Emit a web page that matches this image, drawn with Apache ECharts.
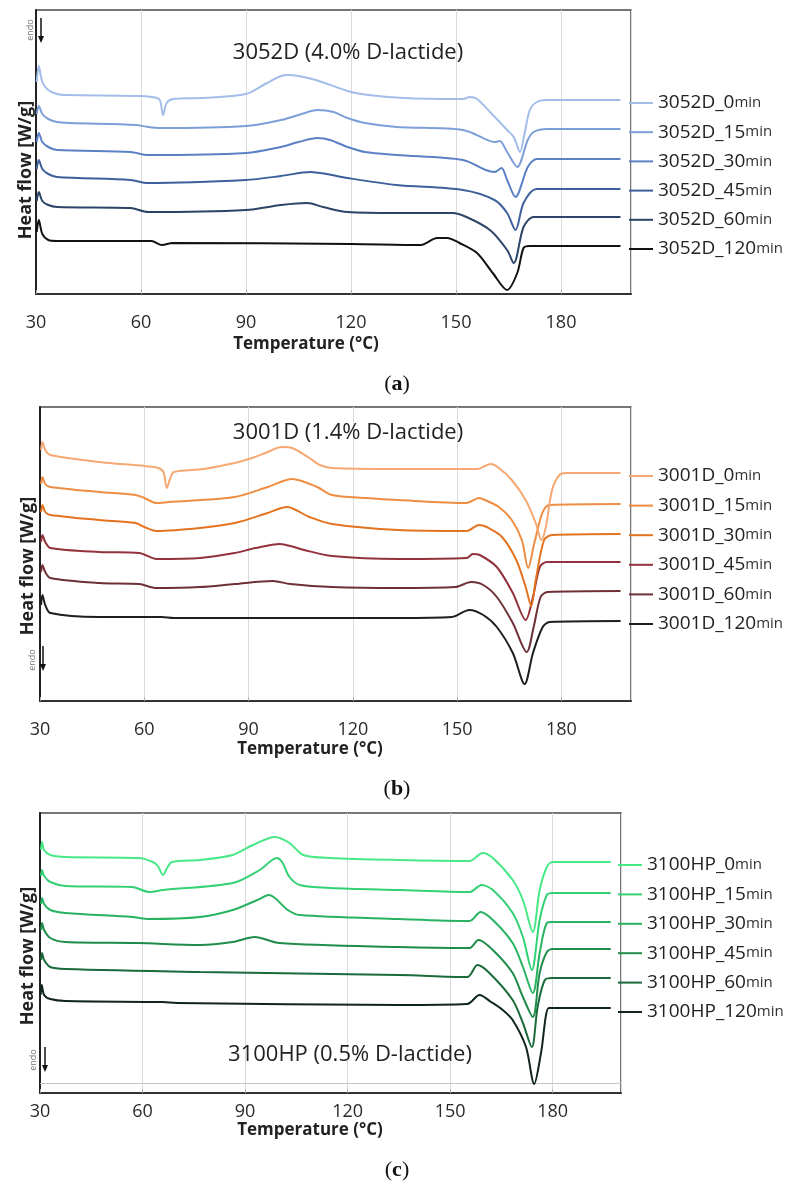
<!DOCTYPE html>
<html>
<head>
<meta charset="utf-8">
<script src="https://cdn.jsdelivr.net/npm/echarts@6/dist/echarts.min.js"></script>
<style>
html,body{margin:0;padding:0;background:#fff;}
#chart{width:794px;height:1191px;}
</style>
</head>
<body>
<div id="chart"></div>
<script>
// ---------- DATA (temperature °C, heat flow in offset arbitrary units) ----------
const xTickValues = [30, 60, 90, 120, 150, 180];
const panelTitles = ['3052D (4.0% D-lactide)', '3001D (1.4% D-lactide)', '3100HP (0.5% D-lactide)'];
const panelCaptions = ['a', 'b', 'c'];

const namesA = ['3052D_0min', '3052D_15min', '3052D_30min', '3052D_45min', '3052D_60min', '3052D_120min'];
const namesB = ['3001D_0min', '3001D_15min', '3001D_30min', '3001D_45min', '3001D_60min', '3001D_120min'];
const namesC = ['3100HP_0min', '3100HP_15min', '3100HP_30min', '3100HP_45min', '3100HP_60min', '3100HP_120min'];

const a0 = [[30.2,212],[30.8,228],[31.8,212],[33.5,204],[36,200],[39,199],[60,198],[64.6,196],[65.5,193],[66.3,179],[67.3,191],[69.2,195],[77,196],[90,200],[96,211],[100,218],[102,219],[105,218],[110,214],[120,202],[125,199],[135,196],[150,195],[152,195],[154,197],[156,195],[160,181],[164.6,164],[166.5,157],[168.3,142],[169.5,159],[171.1,184],[173.1,192],[176,194],[197,194]];
const a15 = [[30.2,180],[30.8,188],[31.8,180],[33.5,175],[36,172],[39.5,171],[58.5,169],[62,167],[65,166],[90,168],[100,174],[105,179],[110.5,184],[115,182],[119,176],[124,171],[133,167],[152,164],[159,154],[161,152],[162.5,153],[164.6,142],[167.5,127],[170.5,154],[172.2,162],[176,165],[197,165]];
const a30 = [[30.2,152],[30.8,161],[31.8,152],[33.5,147],[36,144],[57,142],[62,139],[90,141],[100,147],[105,152],[110.5,156],[114,154],[119,147],[124,142],[133,139],[152,134],[158.5,124],[161,122],[163,126],[164.6,114],[167,97],[170.5,127],[173,135],[176,135],[197,135]];
const a45 = [[30.2,125],[30.8,134],[31.8,125],[33.5,120],[36,117],[57,114],[62,111],[90,114],[100,118],[108.5,122],[113,120],[119,116],[133,109],[152,104],[161,94],[164.6,81],[167,64],[169.3,91],[173,105],[197,105]];
const a60 = [[30.2,93],[30.8,102],[31.8,93],[33.5,89],[36,87],[57,86],[62,82],[90,84],[100,89],[107.5,91],[112,87],[119,82],[133,81],[149,81],[153,77],[159.7,64],[164.6,44],[166.5,31],[169.3,67],[172.2,77],[197,77]];
const a120 = [[30.2,62],[30.8,74],[31.8,60],[33.5,54],[36,53],[60,53],[63,53],[66,49],[69,51],[120,50],[140,49],[144.6,56],[147.5,56],[151,51],[156,41],[160.5,21],[164.6,4],[167.5,21],[169.3,46],[171,48],[197,48]];

const b0 = [[30.3,251],[30.7,259],[31.5,251],[33,246],[47,239],[60,235],[64,233],[65.5,229],[66.5,213],[67.5,223],[68.5,229],[77,232],[86,238],[91,243],[95.5,249],[99.5,254],[102.5,253],[107.5,243],[110.5,236],[114,233],[133,232],[156,232],[158,235],[159.7,237],[162,233],[165.7,221],[169.7,201],[172.6,178],[174.2,161],[175.5,174],[177.3,211],[179.4,226],[181.5,228],[197,228]];
const b15 = [[30.3,217],[30.7,224],[31.5,217],[33,214],[47,209],[57.5,206],[60,203],[63.5,198],[67,199],[86,204],[95.5,214],[102.5,222],[109.7,214],[114,206],[124,203],[133,201],[152.7,198],[156.3,203],[158,201],[162,194],[165.7,181],[168.6,161],[170.4,133],[172.2,158],[174.5,188],[176.5,196],[197,197]];
const b30 = [[30.3,189],[30.7,196],[31.5,189],[33,186],[47,181],[57.5,178],[60,174],[63.5,170],[76,173],[86,178],[95.5,188],[101,194],[107.5,184],[114,177],[133,171],[152.7,170],[156.3,176],[158.5,174],[162.9,164],[167,141],[169.7,114],[171.3,95],[172.6,121],[175,161],[177.3,166],[197,167]];
const b45 = [[30.3,159],[30.7,166],[31.5,159],[33,153],[47,149],[58.5,148],[63.5,142],[76,143],[86,148],[92,153],[99,157],[103,154],[106,151],[114,145],[133,142],[152.7,143],[154.5,147],[156.5,146],[161.4,134],[166,108],[169.7,81],[171.8,104],[173.8,134],[175.8,139],[197,139]];
const b60 = [[30.3,129],[30.7,136],[31.5,129],[33,123],[47,118],[58.5,117],[63.5,113],[76,114],[86,117],[97,120],[102,117],[114,114],[133,113],[149.5,114],[154,119],[157.5,116],[161.4,104],[166,78],[170,49],[172,74],[174,104],[176,109],[197,110]];
const b120 = [[30.3,96],[30.7,106],[31.5,96],[33,88],[47,84],[65,84],[68.5,83],[133,83],[148.5,84],[153.5,91],[157.5,86],[161.4,74],[166,48],[169.4,17],[171.8,48],[174.6,74],[176.6,79],[197,80]];

const c0 = [[30.3,243],[30.6,251],[31.2,243],[33,238],[37.5,236],[59,235],[63,231],[64.5,227],[66,218],[67.2,225],[68.6,231],[76.8,233],[86.4,238],[92.3,248],[98.7,256],[103,250],[107,238],[115,235],[135,233],[155.7,232],[159.5,240],[162.5,235],[168.3,213],[171.3,193],[174.2,161],[176.2,203],[178.3,226],[180,231],[197,231]];
const c15 = [[30.3,217],[30.6,223],[31.2,217],[33,211],[37.5,207],[57,206],[62,201],[66,203],[86.4,210],[94.3,223],[99.3,235],[101,230],[103,216],[106,208],[115,205],[135,203],[155.7,201],[159.2,208],[162.5,203],[168.3,180],[171.3,156],[173.9,123],[176.2,173],[178.3,198],[180,200],[197,200]];
const c30 = [[30.3,189],[30.6,195],[31.2,189],[33,183],[37.5,180],[57,176],[62,174],[76.8,176],[86.4,183],[93.6,193],[97,198],[102.5,183],[106,178],[135,174],[155.7,172],[158.9,181],[162.5,173],[168.3,150],[171.3,126],[174.2,100],[176.2,140],[178.3,170],[180,171],[197,171]];
const c45 = [[30.3,163],[30.6,170],[31.2,163],[33,155],[37.5,151],[58.5,150],[76.8,148],[86.4,151],[92.8,156],[100,150],[135,146],[155.7,145],[158.3,153],[162.5,143],[168.3,120],[171.3,96],[174.2,76],[176.2,120],[178.3,141],[180,144],[197,144]];
const c60 = [[30.3,133],[30.6,140],[31.2,133],[33,126],[37.5,124],[76.8,121],[135,118],[155,116],[158,128],[161.5,120],[168.3,93],[171.3,70],[173.9,46],[175.6,86],[177.7,113],[180,115],[197,115]];
const c120 = [[30.2,98],[30.5,108],[31.2,98],[33,94],[37.5,92],[66,91],[70,90],[135,88],[155,89],[158.6,98],[162,91],[165.4,83],[168.3,73],[172.2,46],[174.6,9],[176.6,40],[178.9,85],[181,85],[197,85]];
const baselineC = 10;

// ---------- STYLES ----------
const colorsA = ['#a3bde9', '#7d9fd8', '#5b80c4', '#3e609a', '#2b4468', '#111111'];
const colorsB = ['#f6a873', '#ef8d43', '#e47320', '#93323c', '#6e3036', '#1e1e1e'];
const colorsC = ['#48e887', '#34d074', '#27b35f', '#1f8c4a', '#1a6a3a', '#10261a'];
const FONT = 'Open Sans';

const panels = [
  {names: namesA, data: [a0, a15, a30, a45, a60, a120], colors: colorsA, ymax: 284,
   grid: {left: 36, top: 10, width: 595, height: 284}, labelMargin: 20, xNameGap: 42, xPad: 55,
   yNameGap: 1, yPad: 36, titleTop: 37, titleX: 343, legendLeft: 624, legendTop: 88, legendGap: 9.2, captionY: 384,
   endo: {tx: 30, ty: 30, ax: 41, ay1: 18, ay2: 43}},
  {names: namesB, data: [b0, b15, b30, b45, b60, b120], colors: colorsB, ymax: 294,
   grid: {left: 40, top: 407, width: 591, height: 294}, labelMargin: 20, xNameGap: 40, xPad: 51,
   yNameGap: 3, yPad: 24, titleTop: 417, titleX: 343, legendLeft: 624, legendTop: 461, legendGap: 9.6, captionY: 789,
   endo: {tx: 32, ty: 660, ax: 43, ay1: 646, ay2: 671}},
  {names: namesC, data: [c0, c15, c30, c45, c60, c120], colors: colorsC, ymax: 280,
   grid: {left: 40, top: 813, width: 581, height: 280}, labelMargin: 10, xNameGap: 28, xPad: 41,
   yNameGap: 3, yPad: 6, titleTop: 1039, titleX: 345, legendLeft: 613, legendTop: 850, legendGap: 9.4, captionY: 1170,
   endo: {tx: 33, ty: 1060, ax: 45, ay1: 1047, ay2: 1072}}
];

const grids = [], xAxes = [], yAxes = [], series = [], legends = [], titles = [], graphics = [];

panels.forEach((p, i) => {
  grids.push(Object.assign({show: true, borderColor: '#4a4a4a', borderWidth: 1.5, backgroundColor: '#fff'}, p.grid));
  xAxes.push({
    type: 'value', gridIndex: i, min: 30, max: 200, interval: 30,
    axisLine: {show: true, onZero: false, lineStyle: {color: '#333', width: 2}},
    axisTick: {show: true, inside: true, length: 4, lineStyle: {color: '#aaa'}},
    axisLabel: {margin: p.labelMargin, fontSize: 18, color: '#2a2a2a', fontFamily: FONT, showMaxLabel: false,
      formatter: v => (xTickValues.indexOf(v) >= 0 ? String(v) : '')},
    splitLine: {show: true, lineStyle: {color: '#dadada', width: 1}},
    name: 'Temperature (°C)', nameLocation: 'middle', nameGap: p.xNameGap,
    nameTextStyle: {fontSize: 17, fontWeight: 'bold', color: '#222', fontFamily: FONT, padding: [0, p.xPad, 0, 0]}
  });
  yAxes.push({
    type: 'value', gridIndex: i, min: 0, max: p.ymax,
    axisLine: {show: true, lineStyle: {color: '#222', width: 2}},
    axisTick: {show: false}, axisLabel: {show: false}, splitLine: {show: false},
    name: 'Heat flow [W/g]', nameLocation: 'middle', nameGap: p.yNameGap,
    nameTextStyle: {fontSize: 18, fontWeight: 'bold', color: '#222', fontFamily: FONT, padding: [0, p.yPad, 0, 0]}
  });
  p.names.forEach((name, k) => {
    const s = {
      name: name, type: 'line', xAxisIndex: i, yAxisIndex: i, data: p.data[k],
      showSymbol: false, symbol: 'none', smooth: 0.3,
      lineStyle: {color: p.colors[k], width: 2}, itemStyle: {color: p.colors[k]},
      z: 10 - k
    };
    if (i === 2 && k === 5) {
      s.markLine = {silent: true, symbol: 'none', label: {show: false},
        lineStyle: {color: '#c4c4c4', type: 'solid', width: 1.2}, data: [{yAxis: baselineC}]};
    }
    series.push(s);
  });
  legends.push({
    data: p.names, orient: 'vertical', left: p.legendLeft, top: p.legendTop,
    itemWidth: 24, itemHeight: 2, itemGap: p.legendGap, icon: 'rect', selectedMode: false,
    formatter: n => n.replace(/min$/, '') + '{m|min}',
    textStyle: {fontSize: 19, lineHeight: 20, color: '#222', fontFamily: FONT,
      rich: {m: {fontSize: 15, lineHeight: 20, color: '#333', fontFamily: FONT}}}
  });
  titles.push({
    text: panelTitles[i], left: p.titleX, top: p.titleTop, textAlign: 'center',
    textStyle: {fontSize: 22, fontWeight: 'normal', color: '#222', fontFamily: FONT}
  });
  graphics.push({
    type: 'text', x: 397, y: p.captionY, z: 50,
    style: {text: '{n|(}{b|' + panelCaptions[i] + '}{n|)}', align: 'center', verticalAlign: 'middle',
      rich: {n: {fontFamily: 'Liberation Serif', fontSize: 22, fill: '#111'},
             b: {fontFamily: 'Liberation Serif', fontSize: 22, fontWeight: 'bold', fill: '#111'}}}
  });
  const e = p.endo;
  graphics.push({
    type: 'text', x: e.tx, y: e.ty, rotation: Math.PI / 2, z: 50,
    style: {text: 'endo', fontSize: 9, fill: '#777', fontFamily: FONT, align: 'center', verticalAlign: 'middle'}
  });
  graphics.push({type: 'line', z: 50, shape: {x1: e.ax, y1: e.ay1, x2: e.ax, y2: e.ay2 - 5},
    style: {stroke: '#111', lineWidth: 1.5}});
  graphics.push({type: 'polygon', z: 50, shape: {points: [[e.ax - 3, e.ay2 - 7], [e.ax + 3, e.ay2 - 7], [e.ax, e.ay2]]},
    style: {fill: '#111'}});
});

const chart = echarts.init(document.getElementById('chart'), null, {renderer: 'canvas'});
chart.setOption({
  animation: false,
  backgroundColor: '#fff',
  title: titles,
  grid: grids,
  xAxis: xAxes,
  yAxis: yAxes,
  legend: legends,
  series: series,
  graphic: graphics
});
</script>
</body>
</html>
